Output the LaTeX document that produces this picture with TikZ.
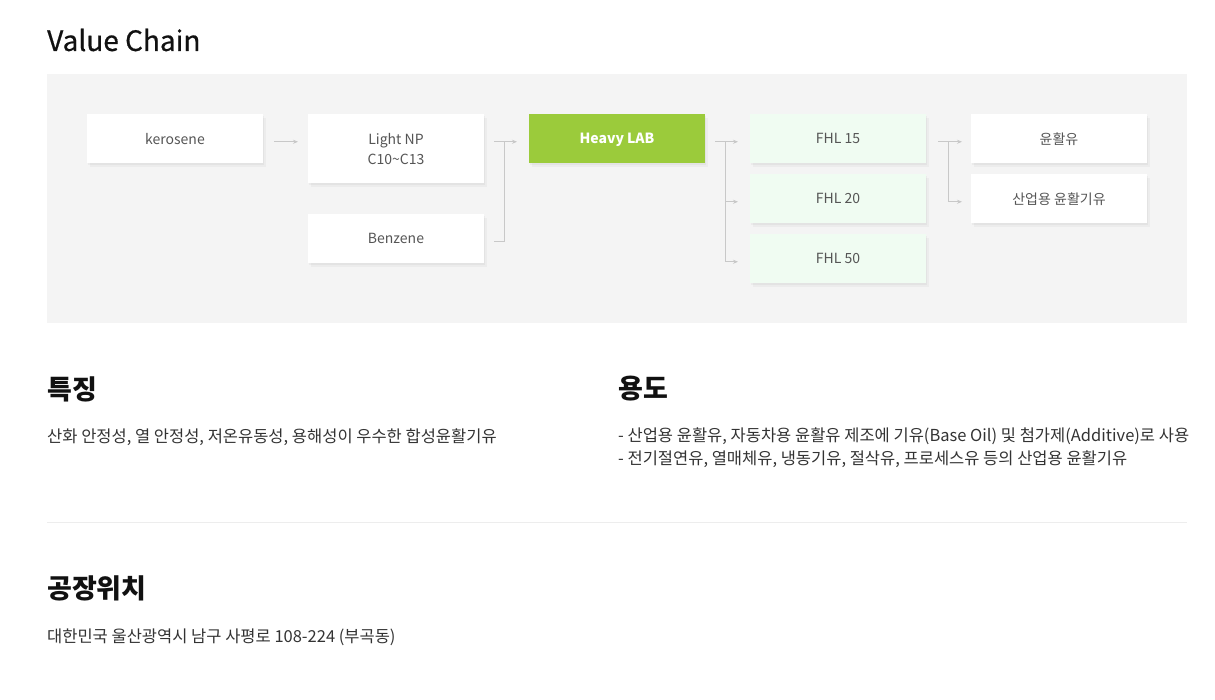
\documentclass[tikz,border=0pt]{standalone}
\usepackage{fontspec}
\setmainfont{Noto Sans CJK KR}
\usetikzlibrary{positioning, arrows.meta, shadows}

\definecolor{panelgray}{HTML}{F4F4F4}
\definecolor{boxtext}{HTML}{555555}
\definecolor{labgreen}{HTML}{9BCB3B}
\definecolor{fhlmint}{HTML}{F0FCF2}
\definecolor{connline}{HTML}{C8C8C8}
\definecolor{headtext}{HTML}{111111}
\definecolor{bodytext}{HTML}{333333}

\tikzset{
	chainbox/.style={fill=white, minimum width=176pt, minimum height=49.5pt, inner sep=0pt, outer sep=0pt,
		text=boxtext, align=center, text depth=0pt, font=\fontsize{14}{20}\selectfont,
		drop shadow={shadow xshift=1pt, shadow yshift=-2pt, fill=black, opacity=.035},
		drop shadow={shadow xshift=3pt, shadow yshift=-4pt, fill=black, opacity=.03}},
	conn/.style={draw=connline, line width=0.8pt, -{Stealth[length=5pt, width=4pt]}},
	connline/.style={draw=connline, line width=0.8pt},
	heading/.style={anchor=west, inner sep=0pt, text=headtext, font=\fontsize{27}{32}\selectfont\bfseries},
	bodyline/.style={anchor=west, inner sep=0pt, text=bodytext, font=\fontsize{16.5}{20}\selectfont}
}

\begin{document}
\begin{tikzpicture}[x=1pt, y=-1pt]
	\useasboundingbox (0,0) rectangle (1215,700);
	\node at (47,40) [anchor=west, inner sep=0pt, text=headtext, font=\fontsize{28}{32}\selectfont\addfontfeatures{FakeBold=0.6}] (title) {Value Chain};
	\fill[panelgray] (47,74) rectangle (1187,323);

	% value chain
	\node at (87,114) [chainbox, anchor=north west] (kero) {kerosene};
	\node [chainbox, right=45pt of kero.north east, anchor=north west, minimum height=69.5pt] (lnp) {Light NP\\C10\char`\~C13};
	\node [chainbox, below=30.5pt of lnp] (benz) {Benzene};
	\node [chainbox, right=45pt of lnp.north east, anchor=north west, fill=labgreen, text=white, font=\fontsize{14}{20}\selectfont\bfseries] (heavy) {Heavy LAB};
	\node [chainbox, right=45pt of heavy, fill=fhlmint] (fhl15) {FHL 15};
	\node [chainbox, below=10.5pt of fhl15, fill=fhlmint] (fhl20) {FHL 20};
	\node [chainbox, below=10.5pt of fhl20, fill=fhlmint] (fhl50) {FHL 50};
	\node [chainbox, right=45pt of fhl15] (oil) {윤활유};
	\node [chainbox, below=10.5pt of oil] (base) {산업용 윤활기유};

	\draw[conn] ([xshift=11pt, yshift=-3pt]kero.east) -- ([xshift=-10pt, yshift=-3pt]lnp.west |- kero.east);
	\draw[conn] ([xshift=10pt, yshift=-3pt]lnp.east |- heavy.east) -- ([xshift=-12pt, yshift=-3pt]heavy.west);
	\draw[connline] ([xshift=10pt, yshift=-3pt]benz.east) -| ([xshift=20pt, yshift=-3pt]lnp.east |- heavy.east);

	\draw[conn] ([xshift=10pt, yshift=-3pt]heavy.east) -- ([xshift=-12pt, yshift=-3pt]fhl15.west);
	\draw[conn] ([xshift=20pt, yshift=-3pt]heavy.east) |- ([xshift=-12pt, yshift=-3pt]fhl20.west);
	\draw[conn] ([xshift=20pt, yshift=-3pt]heavy.east) |- ([xshift=-12pt, yshift=-3pt]fhl50.west);

	\draw[conn] ([xshift=12pt, yshift=-3pt]fhl15.east) -- ([xshift=-9pt, yshift=-3pt]oil.west);
	\draw[conn] ([xshift=22pt, yshift=-3pt]fhl15.east) |- ([xshift=-9pt, yshift=-3pt]base.west);

	% features / usage
	\node at (47,389) [heading] (feat) {특징};
	\node at (47,437) [bodyline] (featline) {산화 안정성, 열 안정성, 저온유동성, 용해성이 우수한 합성윤활기유};
	\node at (618,389) [heading] (usage) {용도};
	\node at (618,436) [bodyline] (useone) {- 산업용 윤활유, 자동차용 윤활유 제조에 기유(Base Oil) 및 첨가제(Additive)로 사용};
	\node at (618,459) [bodyline] (usetwo) {- 전기절연유, 열매체유, 냉동기유, 절삭유, 프로세스유 등의 산업용 윤활기유};

	\draw[draw=black!7, line width=0.8pt] (47,522) -- (1187,522);

	% plant
	\node at (47,588) [heading] (plant) {공장위치};
	\node at (47,637) [bodyline] (addr) {대한민국 울산광역시 남구 사평로 108-224 (부곡동)};
\end{tikzpicture}
\end{document}
